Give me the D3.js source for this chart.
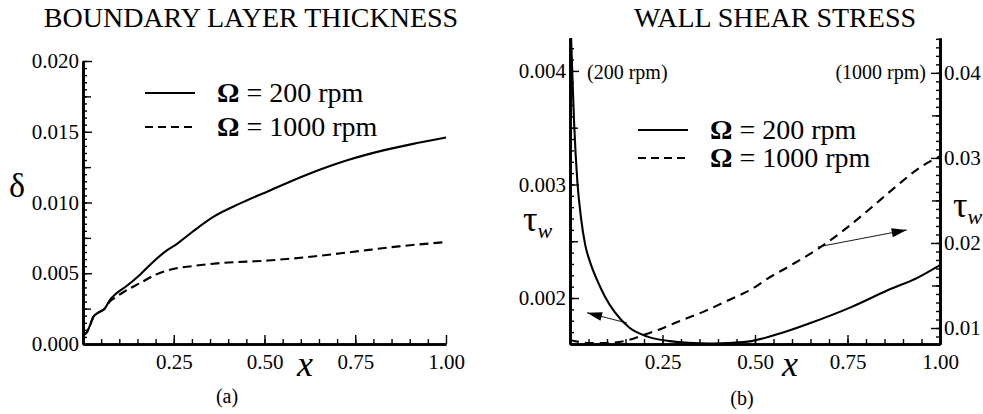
<!DOCTYPE html>
<html>
<head>
<meta charset="utf-8">
<script src="https://cdn.jsdelivr.net/npm/d3@7"></script>
<style>
body { margin: 0; background: #fff; }
text { font-family: "Liberation Serif", "Times New Roman", serif; fill: #000; }
</style>
</head>
<body>
<svg id="chart" width="983" height="414"></svg>
<script>
// (a) boundary layer thickness
const blX200 = [0, 0.006, 0.012, 0.019, 0.028, 0.041, 0.06, 0.074, 0.093, 0.12, 0.157, 0.193, 0.23, 0.26, 0.30, 0.36, 0.43, 0.51, 0.62, 0.73, 0.83, 0.92, 1.0];
const blD200 = [0.0006, 0.0007, 0.0009, 0.0013, 0.0019, 0.0022, 0.0025, 0.0031, 0.0036, 0.0041, 0.0049, 0.0058, 0.0066, 0.0071, 0.0079, 0.0090, 0.0099, 0.0108, 0.0120, 0.0130, 0.0137, 0.0142, 0.0146];
const blX1000 = [0, 0.006, 0.012, 0.019, 0.028, 0.041, 0.06, 0.074, 0.09, 0.12, 0.157, 0.2, 0.248, 0.30, 0.37, 0.51, 0.64, 0.74, 0.87, 1.0];
const blD1000 = [0.0006, 0.0007, 0.0009, 0.0013, 0.0019, 0.0022, 0.0025, 0.0030, 0.0033, 0.0038, 0.0043, 0.0049, 0.0053, 0.0055, 0.0057, 0.0059, 0.0062, 0.0065, 0.0069, 0.0072];

// (b) wall shear stress: 200 rpm on left axis, 1000 rpm on right axis
const wsX200 = [0.003, 0.006, 0.011, 0.02, 0.03, 0.041, 0.055, 0.073, 0.095, 0.12, 0.16, 0.21, 0.27, 0.32, 0.38, 0.44, 0.49, 0.56, 0.65, 0.76, 0.86, 0.94, 1.0];
const wsT200 = [0.00429, 0.0040, 0.00355, 0.00302, 0.00270, 0.00247, 0.00231, 0.00216, 0.00201, 0.00188, 0.00174, 0.00166, 0.00162, 0.001605, 0.0016, 0.001605, 0.00162, 0.00168, 0.00178, 0.00192, 0.00207, 0.00218, 0.00229];
const wsX1000 = [0, 0.027, 0.054, 0.1, 0.16, 0.2, 0.24, 0.29, 0.36, 0.43, 0.5, 0.53, 0.59, 0.67, 0.74, 0.81, 0.88, 0.95, 1.0];
const wsT1000 = [0.0086, 0.00835, 0.00824, 0.00824, 0.0086, 0.0092, 0.0098, 0.0107, 0.0119, 0.0133, 0.0148, 0.0157, 0.0172, 0.0193, 0.0215, 0.0240, 0.0266, 0.0290, 0.0302];

// arrows in (x, left-axis tau) units
const arrowFrom = [[0.67, 0.00245], [0.154, 0.00178]];
const arrowTo = [[0.91, 0.00260], [0.046, 0.00187]];

const xTicksMajor = [0.25, 0.5, 0.75, 1.0];
const blTicks = [0, 0.005, 0.010, 0.015, 0.020];
const wsLeftTicks = [0.002, 0.003, 0.004];
const wsRightTicks = [0.01, 0.02, 0.03, 0.04];
const legendLabels = ['200 rpm', '1000 rpm'];

const svg = d3.select('#chart');
const tickFont = '21px';

function styleAxis(g) {
    g.select('.domain').style('stroke', '#000').style('stroke-width', 2.4);
    g.selectAll('.tick line').style('stroke', '#000').style('stroke-width', 1.4);
    g.selectAll('.tick text').style('font-size', tickFont).style('font-family', '"Liberation Serif", serif');
}

function minorTicks(domain, step) {
    const out = [];
    for (let v = domain[0]; v <= domain[1] + step * 1e-3; v += step) out.push(+v.toFixed(6));
    return out;
}

function xAxisFor(g, x, y0) {
    g.append('g').attr('transform', `translate(0,${y0})`)
        .call(d3.axisBottom(x).tickValues(minorTicks([0.05, 0.95], 0.05)).tickSize(-5).tickFormat('').tickSizeOuter(0))
        .call(styleAxis);
    g.append('g').attr('transform', `translate(0,${y0})`)
        .call(d3.axisBottom(x).tickValues(xTicksMajor).tickSize(-9).tickPadding(7).tickFormat(d3.format('.2f')).tickSizeOuter(0))
        .call(styleAxis)
        .selectAll('.tick text').attr('dy', '0.85em');
}

// ---------- panel (a)
const xa = d3.scaleLinear().domain([0, 1]).range([83, 446]);
const ya = d3.scaleLinear().domain([0, 0.02]).range([344, 61]);
const ga = svg.append('g');

ga.append('g').attr('transform', `translate(${xa(0)},0)`)
    .call(d3.axisLeft(ya).tickValues(minorTicks([0, 0.02], 0.0005)).tickSize(-4).tickFormat('').tickSizeOuter(0))
    .call(styleAxis);
ga.append('g').attr('transform', `translate(${xa(0)},0)`)
    .call(d3.axisLeft(ya).tickValues(minorTicks([0.0025, 0.0175], 0.005)).tickSize(-8).tickFormat('').tickSizeOuter(0))
    .call(styleAxis);
ga.append('g').attr('transform', `translate(${xa(0)},0)`)
    .call(d3.axisLeft(ya).tickValues(blTicks).tickSize(-9).tickPadding(4).tickFormat(d3.format('.3f')).tickSizeOuter(0))
    .call(styleAxis);
xAxisFor(ga, xa, ya(0));

const lineA = (xs, vs) => d3.line().x((d, i) => xa(xs[i])).y(d => ya(d)).curve(d3.curveMonotoneX)(vs);
ga.append('path').attr('d', lineA(blX200, blD200)).style('fill', 'none').style('stroke', '#000').style('stroke-width', 2.1);
ga.append('path').attr('d', lineA(blX1000, blD1000)).style('fill', 'none').style('stroke', '#000').style('stroke-width', 2.1).style('stroke-dasharray', '9,5');

ga.append('text').attr('x', 251).attr('y', 27).attr('text-anchor', 'middle').style('font-size', '28px').text('BOUNDARY LAYER THICKNESS');
ga.append('text').attr('x', 17).attr('y', 197).attr('text-anchor', 'middle').style('font-size', '34px').text('δ');
ga.append('text').attr('x', 305).attr('y', 376).attr('text-anchor', 'middle').style('font-size', '36px').style('font-style', 'italic').text('x');
ga.append('text').attr('x', 227).attr('y', 403).attr('text-anchor', 'middle').style('font-size', '20px').text('(a)');

function legend(g, x0, y0, gap) {
    legendLabels.forEach((lab, i) => {
        const y = y0 + i * gap;
        g.append('line').attr('x1', x0).attr('x2', x0 + 50).attr('y1', y).attr('y2', y)
            .style('stroke', '#000').style('stroke-width', 1.8).style('stroke-dasharray', i ? '8,5' : null);
        const t = g.append('text').attr('x', x0 + 72).attr('y', y + 9).style('font-size', '28px');
        t.append('tspan').style('font-weight', 'bold').text('Ω');
        t.append('tspan').text(' = ' + lab);
    });
}
legend(ga, 145, 93, 34);

// ---------- panel (b)
const xb = d3.scaleLinear().domain([0, 1]).range([570, 940]);
const ybL = d3.scaleLinear().domain([0.001595, 0.00429]).range([344, 38]);
const ybR = d3.scaleLinear().domain([0.00812, 0.0441]).range([344, 38]);
const gb = svg.append('g');

gb.append('clipPath').attr('id', 'clipB').append('rect')
    .attr('x', xb(0)).attr('y', 38).attr('width', xb(1) - xb(0)).attr('height', 308);

gb.append('g').attr('transform', `translate(${xb(0)},0)`)
    .call(d3.axisLeft(ybL).tickValues(minorTicks([0.0016, 0.0042], 0.0001)).tickSize(-4).tickFormat('').tickSizeOuter(0))
    .call(styleAxis);
gb.append('g').attr('transform', `translate(${xb(0)},0)`)
    .call(d3.axisLeft(ybL).tickValues([0.0025, 0.0035]).tickSize(-8).tickFormat('').tickSizeOuter(0))
    .call(styleAxis);
gb.append('g').attr('transform', `translate(${xb(0)},0)`)
    .call(d3.axisLeft(ybL).tickValues(wsLeftTicks).tickSize(-9).tickPadding(4).tickFormat(d3.format('.3f')).tickSizeOuter(0))
    .call(styleAxis);

gb.append('g').attr('transform', `translate(${xb(1)},0)`)
    .call(d3.axisRight(ybR).tickValues(minorTicks([0.009, 0.044], 0.001)).tickSize(-4).tickFormat('').tickSizeOuter(0))
    .call(styleAxis);
gb.append('g').attr('transform', `translate(${xb(1)},0)`)
    .call(d3.axisRight(ybR).tickValues([0.015, 0.025, 0.035]).tickSize(-8).tickFormat('').tickSizeOuter(0))
    .call(styleAxis);
gb.append('g').attr('transform', `translate(${xb(1)},0)`)
    .call(d3.axisRight(ybR).tickValues(wsRightTicks).tickSize(-9).tickPadding(4).tickFormat(d3.format('.2f')).tickSizeOuter(0))
    .call(styleAxis);
xAxisFor(gb, xb, ybL.range()[0]);

const lineB = (xs, vs, y) => d3.line().x((d, i) => xb(xs[i])).y(d => y(d)).curve(d3.curveMonotoneX)(vs);
gb.append('path').attr('d', lineB(wsX200, wsT200, ybL)).attr('clip-path', 'url(#clipB)')
    .style('fill', 'none').style('stroke', '#000').style('stroke-width', 2.1);
gb.append('path').attr('d', lineB(wsX1000, wsT1000, ybR)).attr('clip-path', 'url(#clipB)')
    .style('fill', 'none').style('stroke', '#000').style('stroke-width', 2.1).style('stroke-dasharray', '9,6');

const defs = svg.append('defs');
defs.append('marker').attr('id', 'arrowHead').attr('viewBox', '0 0 10 6').attr('refX', 10).attr('refY', 3)
    .attr('markerWidth', 20).attr('markerHeight', 9).attr('markerUnits', 'userSpaceOnUse').attr('orient', 'auto')
    .append('path').attr('d', 'M0,0 L10,3 L0,6 Z').style('fill', '#000');
arrowFrom.forEach((p, i) => {
    gb.append('line')
        .attr('x1', xb(p[0])).attr('y1', ybL(p[1]))
        .attr('x2', xb(arrowTo[i][0])).attr('y2', ybL(arrowTo[i][1]))
        .style('stroke', '#000').style('stroke-width', 0.9).attr('marker-end', 'url(#arrowHead)');
});

gb.append('text').attr('x', 775).attr('y', 27).attr('text-anchor', 'middle').style('font-size', '28px').text('WALL SHEAR STRESS');
gb.append('text').attr('x', 587).attr('y', 79).style('font-size', '20px').text('(200 rpm)');
gb.append('text').attr('x', 926).attr('y', 79).attr('text-anchor', 'end').style('font-size', '20px').text('(1000 rpm)');
const tauL = gb.append('text').attr('x', 523).attr('y', 231).style('font-size', '36px');
tauL.append('tspan').text('τ');
tauL.append('tspan').attr('dy', 7).style('font-size', '22px').style('font-style', 'italic').text('w');
const tauR = gb.append('text').attr('x', 953).attr('y', 217).style('font-size', '36px');
tauR.append('tspan').text('τ');
tauR.append('tspan').attr('dy', 7).style('font-size', '22px').style('font-style', 'italic').text('w');
gb.append('text').attr('x', 790).attr('y', 376).attr('text-anchor', 'middle').style('font-size', '36px').style('font-style', 'italic').text('x');
gb.append('text').attr('x', 742).attr('y', 405).attr('text-anchor', 'middle').style('font-size', '20px').text('(b)');
legend(gb, 638, 130, 28);
</script>
</body>
</html>
